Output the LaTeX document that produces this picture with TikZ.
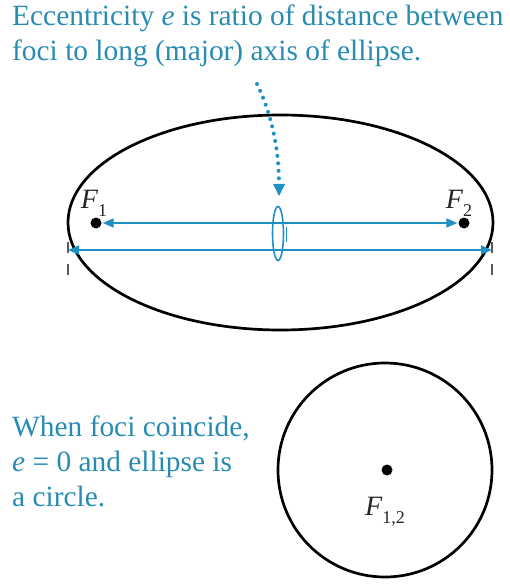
\documentclass[tikz,border=0pt]{standalone}
\usepackage{fontspec}
\setmainfont{Liberation Serif}
\usetikzlibrary{arrows.meta}
\definecolor{txtblue}{RGB}{40,140,178}
\definecolor{arrblue}{RGB}{30,144,196}
\newcommand{\subsc}[1]{\raisebox{-0.28em}{\fontsize{18}{18}\selectfont #1}}
\tikzset{
  x=1pt,y=-1pt,
  note/.style={text=txtblue,font=\fontsize{29.4}{35}\selectfont,anchor=north west,inner sep=0pt,align=left},
  focus/.style={circle,fill=black,inner sep=0pt,minimum size=11pt},
  flabel/.style={font=\fontsize{28}{30}\selectfont,text=black!85},
  axisarrow/.style={arrblue,line width=1.8pt,{Triangle[length=11pt,width=9pt]}-{Triangle[length=11pt,width=9pt]}},
  tickmark/.style={black!65,line width=1.3pt,dash pattern=on 11pt off 11pt},
  curveline/.style={black,line width=2.7pt}
}
\begin{document}
\begin{tikzpicture}
\useasboundingbox (0,0) rectangle (510,585);
% title text
\node[note] (title) at (12,5) {Eccentricity \textit{e} is ratio of distance between\\foci to long (major) axis of ellipse.};
% ellipse
\draw[curveline] (280.5,222.5) ellipse [x radius=212.5, y radius=107.5];
% foci
\node[focus] (f1) at (96,223) {};
\node[focus] (f2) at (464,223) {};
\node[flabel] (l1) at (94,203) {\textit{F}\subsc{1}};
\node[flabel] (l2) at (459,203) {\textit{F}\subsc{2}};
% ticks
\coordinate (tl) at (68,250);
\coordinate (tr) at (492,250);
\draw[tickmark] (68,242) -- (68,282);
\draw[tickmark] (492,242) -- (492,282);
% arrows
\draw[axisarrow,shorten <=1pt,shorten >=1pt] (f1) -- (f2);
\draw[axisarrow] (tl) -- (tr);
% ring marker
\draw[arrblue,line width=1.6pt] (278,233.5) ellipse [x radius=5.5, y radius=27];
\draw[arrblue,line width=1.6pt] (286.5,227) -- (286.5,242);
% dotted arrow
\coordinate (ds) at (257,84);
\coordinate (de) at (279,196);
\draw[arrblue,line width=4pt,line cap=round,dash pattern=on 0pt off 7.5pt] (ds) .. controls (272,115) and (279,150) .. (279,185);
\fill[arrblue] (de) -- ++(-6,-12) -- ++(12,0) -- cycle;
% circle
\draw[curveline] (385,470) circle [radius=107];
\node[focus] (f12) at (387,470) {};
\node[flabel] (l12) at (385,512) {\textit{F}\subsc{1,2}};
% bottom text
\node[note] (bottom) at (12,416) {When foci coincide,\\\textit{e} = 0 and ellipse is\\a circle.};
\end{tikzpicture}
\end{document}
